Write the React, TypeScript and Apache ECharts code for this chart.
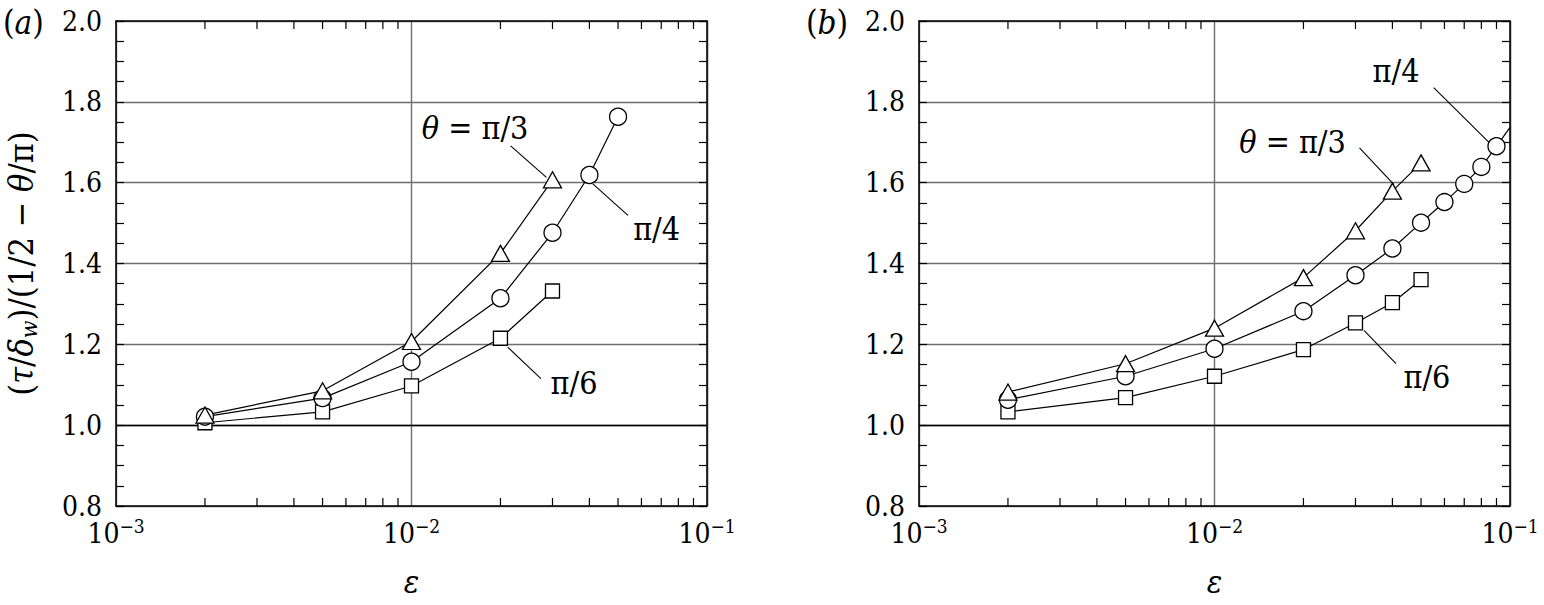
import React, { useEffect, useRef } from "react";
import * as echarts from "echarts";

const FONT = "DejaVu Serif Condensed, DejaVu Serif";

// ---------- data: panel (a) ----------
const EPS_A_TRI = [0.002, 0.005, 0.01, 0.02, 0.03];
const A_TRI = [1.025, 1.085, 1.207, 1.425, 1.607];
const EPS_A_CIR = [0.002, 0.005, 0.01, 0.02, 0.03, 0.04, 0.05];
const A_CIR = [1.021, 1.067, 1.157, 1.314, 1.476, 1.619, 1.763];
const EPS_A_SQ = [0.002, 0.005, 0.01, 0.02, 0.03];
const A_SQ = [1.006, 1.033, 1.097, 1.215, 1.332];

// ---------- data: panel (b) ----------
const EPS_B_TRI = [0.002, 0.005, 0.01, 0.02, 0.03, 0.04, 0.05];
const B_TRI = [1.082, 1.152, 1.24, 1.365, 1.481, 1.579, 1.649];
const EPS_B_CIR = [0.002, 0.005, 0.01, 0.02, 0.03, 0.04, 0.05, 0.06, 0.07, 0.08, 0.09, 0.1];
const B_CIR = [1.063, 1.121, 1.189, 1.282, 1.371, 1.437, 1.501, 1.552, 1.597, 1.639, 1.69, 1.737];
const EPS_B_SQ = [0.002, 0.005, 0.01, 0.02, 0.03, 0.04, 0.05];
const B_SQ = [1.033, 1.068, 1.121, 1.187, 1.253, 1.303, 1.36];

// ---------- axes ----------
const X_MIN = 0.001;
const X_MAX = 0.1;
const Y_MIN = 0.8;
const Y_MAX = 2.0;
const Y_STEP = 0.2;
const REF_Y = 1.0;
const MINOR_MULT = [2, 3, 4, 5, 6, 7, 8, 9];
const MINOR_DECADES = [-3, -2];
const PANEL_TAGS = ["a", "b"];

// ---------- annotations (data coordinates) ----------
const LABELS_A: [string, number, number][] = [
  ["θ|= π/3", 0.01641, 1.736],
  ["|π/4", 0.06752, 1.486],
  ["|π/6", 0.03547, 1.104],
];
const LEADERS_A: [number, number, number, number][] = [
  [0.02165, 1.691, 0.02862, 1.613],
  [0.04108, 1.597, 0.05403, 1.519],
  [0.02116, 1.193, 0.02742, 1.115],
];
const LABELS_B: [string, number, number][] = [
  ["|π/4", 0.04114, 1.877],
  ["θ|= π/3", 0.01837, 1.6995],
  ["|π/6", 0.05236, 1.119],
];
const LEADERS_B: [number, number, number, number][] = [
  [0.05518, 1.835, 0.08489, 1.6995],
  [0.03096, 1.686, 0.0405, 1.595],
  [0.03206, 1.2346, 0.04114, 1.152],
];

// ---------- layout ----------
const W = 1544;
const H = 605;
const GRID_TOP = 21;
const GRID_H = 485;
const GRID_W = 591;
const GRID_LEFTS = [116, 919];
const TAG_X = [3, 806];
const TAG_Y = 22;
const TICK_LEN = 8;
const FS = 28;
const ANN_FS = 32;
const YNAME_FS = 34;
const TAG_FS = 33;

const zip = (xs: number[], ys: number[]) => xs.map((x, i) => [x, ys[i]]);
const up = { fontFamily: FONT, fontStyle: "normal", fontWeight: "normal" };
const it = { fontFamily: FONT, fontStyle: "italic", fontWeight: "normal" };

export default function App() {
  const ref = useRef<HTMLDivElement>(null);

  useEffect(() => {
    if (!ref.current) return;
    const chart = echarts.init(ref.current, undefined, { renderer: "svg" });

    const panels = [
      {
        tri: zip(EPS_A_TRI, A_TRI),
        cir: zip(EPS_A_CIR, A_CIR),
        sq: zip(EPS_A_SQ, A_SQ),
        labels: LABELS_A,
        leaders: LEADERS_A,
      },
      {
        tri: zip(EPS_B_TRI, B_TRI),
        cir: zip(EPS_B_CIR, B_CIR),
        sq: zip(EPS_B_SQ, B_SQ),
        labels: LABELS_B,
        leaders: LEADERS_B,
      },
    ];

    const axisLine = { show: true, onZero: false, lineStyle: { color: "#000", width: 1.5 } };
    const gridLine = { show: true, lineStyle: { color: "#6e6e6e", width: 1.4 } };

    const grid: any[] = [];
    const xAxis: any[] = [];
    const yAxis: any[] = [];
    const series: any[] = [];
    const firstSeriesIdx: number[] = [];

    panels.forEach((p, gi) => {
      grid.push({ left: GRID_LEFTS[gi], top: GRID_TOP, width: GRID_W, height: GRID_H, containLabel: false });
      xAxis.push({
        type: "log",
        logBase: 10,
        gridIndex: gi,
        min: X_MIN,
        max: X_MAX,
        position: "bottom",
        axisLine,
        axisTick: { show: false },
        minorTick: { show: false },
        splitLine: gridLine,
        axisLabel: {
          margin: 10,
          ...up,
          fontSize: FS,
          color: "#000",
          formatter: (v: number) => `{b|10}{s|−${-Math.round(Math.log10(v))}}`,
          rich: {
            b: { ...up, fontSize: FS, color: "#000", lineHeight: 34 },
            s: { ...up, fontSize: 19, color: "#000", verticalAlign: "top", lineHeight: 20 },
          },
        },
        name: "ε",
        nameLocation: "middle",
        nameGap: 60,
        nameTextStyle: { ...it, fontSize: 32, color: "#000" },
      });
      xAxis.push({
        type: "log",
        logBase: 10,
        gridIndex: gi,
        min: X_MIN,
        max: X_MAX,
        position: "top",
        axisLine,
        axisTick: { show: false },
        minorTick: { show: false },
        splitLine: { show: false },
        axisLabel: { show: false },
      });
      const yBase = {
        type: "value",
        gridIndex: gi,
        min: Y_MIN,
        max: Y_MAX,
        interval: Y_STEP,
        axisLine,
        axisTick: { show: true, inside: true, length: TICK_LEN, lineStyle: { color: "#000", width: 1.2 } },
        minorTick: { show: true, splitNumber: 4, length: TICK_LEN, lineStyle: { color: "#000", width: 1.2 } },
      };
      yAxis.push({
        ...yBase,
        position: "left",
        splitLine: gridLine,
        axisLabel: {
          margin: 14,
          ...up,
          fontSize: FS,
          color: "#000",
          formatter: (v: number) => v.toFixed(1),
        },
        ...(gi === 0
          ? {
              name: "{n|(}{i|τ}{n|/}{i|δ}{sub|w}{n|)/(1/2 − }{i|θ}{n|/π)}",
              nameLocation: "middle",
              nameRotate: 90,
              nameGap: 76,
              nameTextStyle: {
                ...up,
                fontSize: YNAME_FS,
                color: "#000",
                rich: {
                  n: { ...up, fontSize: YNAME_FS, color: "#000", lineHeight: 38 },
                  i: { ...it, fontSize: YNAME_FS, color: "#000", lineHeight: 38 },
                  sub: { ...it, fontSize: 23, color: "#000", verticalAlign: "bottom", lineHeight: 24, padding: [8, 0, 0, 0] },
                },
              },
            }
          : {}),
      });
      yAxis.push({
        ...yBase,
        position: "right",
        splitLine: { show: false },
        axisLabel: { show: false },
      });

      const xi = gi * 2;
      const lineBase = {
        type: "line",
        xAxisIndex: xi,
        yAxisIndex: xi,
        showSymbol: false,
        symbol: "none",
        silent: true,
        z: 3,
        lineStyle: { color: "#000", width: 1.2 },
      };
      firstSeriesIdx.push(series.length);
      series.push({
        ...lineBase,
        data: p.sq,
        markLine: {
          silent: true,
          symbol: ["none", "none"],
          label: { show: false },
          lineStyle: { color: "#000", width: 1.4, type: "solid" },
          data: [{ yAxis: REF_Y }],
          z: 2,
        },
      });
      series.push({ ...lineBase, data: p.cir });
      series.push({ ...lineBase, data: p.tri });

      const mk = (data: number[][], symbol: string, size: any, z: number) => ({
        type: "scatter",
        xAxisIndex: xi,
        yAxisIndex: xi,
        silent: true,
        z,
        symbol,
        symbolSize: size,
        itemStyle: { color: "#fff", borderColor: "#000", borderWidth: 1.3, opacity: 1 },
        data: data.filter((d) => d[0] < X_MAX),
      });
      series.push(mk(p.sq, "rect", 14, 4));
      series.push(mk(p.cir, "circle", 17, 5));
      series.push(mk(p.tri, "triangle", [18, 16], 6));
    });

    chart.setOption({
      animation: false,
      backgroundColor: "#fff",
      textStyle: { ...up },
      grid,
      xAxis,
      yAxis,
      series,
    });

    const graphic: any[] = [];
    const bottom = GRID_TOP + GRID_H;
    panels.forEach((p, gi) => {
      const xi = gi * 2;
      MINOR_DECADES.forEach((d) =>
        MINOR_MULT.forEach((m) => {
          const v = m * Math.pow(10, d);
          const px = chart.convertToPixel({ xAxisIndex: xi } as any, v) as unknown as number;
          graphic.push({
            type: "line",
            silent: true,
            z: 10,
            shape: { x1: px, y1: bottom, x2: px, y2: bottom - TICK_LEN },
            style: { stroke: "#000", lineWidth: 1.2 },
          });
          graphic.push({
            type: "line",
            silent: true,
            z: 10,
            shape: { x1: px, y1: GRID_TOP, x2: px, y2: GRID_TOP + TICK_LEN },
            style: { stroke: "#000", lineWidth: 1.2 },
          });
        })
      );
      const si = firstSeriesIdx[gi];
      p.leaders.forEach(([x1, y1, x2, y2]) => {
        const a = chart.convertToPixel({ seriesIndex: si }, [x1, y1]) as number[];
        const b = chart.convertToPixel({ seriesIndex: si }, [x2, y2]) as number[];
        graphic.push({
          type: "line",
          silent: true,
          z: 10,
          shape: { x1: a[0], y1: a[1], x2: b[0], y2: b[1] },
          style: { stroke: "#000", lineWidth: 1.1 },
        });
      });
      p.labels.forEach(([txt, x, y]) => {
        const [itx, rest] = txt.split("|");
        const pt = chart.convertToPixel({ seriesIndex: si }, [x, y]) as number[];
        graphic.push({
          type: "text",
          silent: true,
          z: 10,
          x: pt[0],
          y: pt[1],
          style: {
            text: (itx ? `{i|${itx}} ` : "") + `{n|${rest}}`,
            align: "center",
            verticalAlign: "middle",
            ...up,
            fontSize: ANN_FS,
            fill: "#000",
            rich: {
              i: { ...it, fontSize: ANN_FS, fill: "#000" },
              n: { ...up, fontSize: ANN_FS, fill: "#000" },
            },
          },
        });
      });
      graphic.push({
        type: "text",
        silent: true,
        x: TAG_X[gi],
        y: TAG_Y,
        style: {
          text: `{n|(}{i|${PANEL_TAGS[gi]}}{n|)}`,
          align: "left",
          verticalAlign: "middle",
          ...up,
          fontSize: TAG_FS,
          fill: "#000",
          rich: {
            i: { ...it, fontSize: TAG_FS, fill: "#000" },
            n: { ...up, fontSize: TAG_FS, fill: "#000" },
          },
        },
      });
    });
    chart.setOption({ graphic });

    return () => chart.dispose();
  }, []);

  return (
    <div
      ref={ref}
      style={{ position: "fixed", left: 0, top: 0, width: W, height: H, background: "#fff" }}
    />
  );
}
